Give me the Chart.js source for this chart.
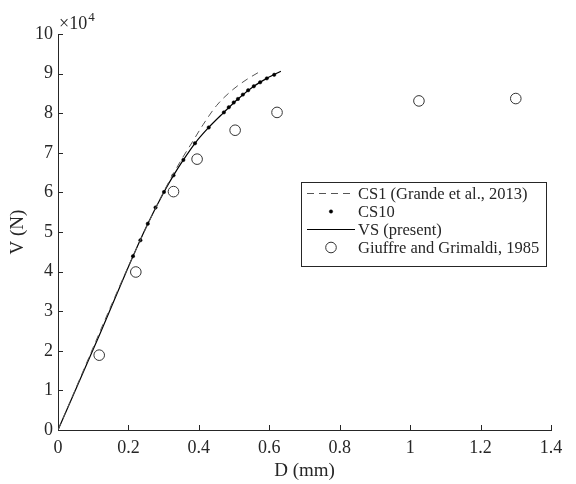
<!DOCTYPE html>
<html>
<head>
<meta charset="utf-8">
<script src="https://cdn.jsdelivr.net/npm/chart.js"></script>
<style>
  html, body { margin: 0; padding: 0; background: #fff; }
</style>
</head>
<body>
<canvas id="myChart" width="576" height="484"></canvas>
<script>
// values are in units of 10^4 N, D in mm
const xTicks = [0, 0.2, 0.4, 0.6, 0.8, 1, 1.2, 1.4];
const yTicks = [0, 1, 2, 3, 4, 5, 6, 7, 8, 9, 10];

const cs1D = [0, 0.213, 0.305, 0.352, 0.380, 0.412, 0.450, 0.493, 0.534, 0.575];
const cs1V = [0, 4.39, 6.10, 6.85, 7.25, 7.71, 8.19, 8.57, 8.84, 9.06];

const cs10D = [0.213, 0.234, 0.255, 0.277, 0.301, 0.328, 0.356, 0.389, 0.428, 0.471, 0.485, 0.499, 0.511, 0.525, 0.540, 0.556, 0.574, 0.593, 0.614];
const cs10V = [4.39, 4.79, 5.21, 5.62, 6.01, 6.43, 6.82, 7.24, 7.64, 8.02, 8.15, 8.27, 8.36, 8.47, 8.58, 8.68, 8.78, 8.88, 8.97];

const vsD = [0, 0.122, 0.213, 0.255, 0.301, 0.328, 0.356, 0.389, 0.428, 0.471, 0.511, 0.556, 0.593, 0.633];
const vsV = [0, 2.49, 4.39, 5.21, 6.01, 6.43, 6.82, 7.24, 7.64, 8.02, 8.36, 8.68, 8.88, 9.06];

const expD = [0.117, 0.221, 0.328, 0.395, 0.503, 0.622, 1.025, 1.30];
const expV = [1.89, 3.99, 6.02, 6.84, 7.57, 8.02, 8.31, 8.37];

const labels = ['CS1 (Grande et al., 2013)', 'CS10', 'VS (present)', 'Giuffre and Grimaldi, 1985'];

const axisColor = '#262626';
const fontFam = '"Liberation Serif", "Times New Roman", serif';

function pts(xs, ys) {
  return xs.map((x, i) => ({ x: x, y: ys[i] }));
}

// inward ticks, exponent note and legend box
const extras = {
  id: 'extras',
  afterDraw(chart) {
    const c = chart.ctx;
    const xs = chart.scales.x, ys = chart.scales.y;
    const a = chart.chartArea;
    c.save();
    c.strokeStyle = axisColor;
    c.lineWidth = 1;
    c.beginPath();
    xTicks.forEach(t => {
      if (t === 0) return;
      const px = Math.round(xs.getPixelForValue(t)) + 0.5;
      c.moveTo(px, a.bottom);
      c.lineTo(px, a.bottom - 5);
    });
    yTicks.forEach(t => {
      if (t === 0) return;
      const py = Math.round(ys.getPixelForValue(t)) + 0.5;
      c.moveTo(a.left, py);
      c.lineTo(a.left + 5, py);
    });
    c.stroke();

    // x10^4
    c.fillStyle = axisColor;
    c.textBaseline = 'alphabetic';
    c.textAlign = 'left';
    c.font = '18px ' + fontFam;
    c.fillText('\u00d710', a.left + 1, a.top - 5);
    const w = c.measureText('\u00d710').width;
    c.font = '13px ' + fontFam;
    c.fillText('4', a.left + 2 + w, a.top - 13);

    // legend
    const bx = 301, by = 182, bw = 245, bh = 84;
    c.fillStyle = '#fff';
    c.fillRect(bx, by, bw, bh);
    c.strokeStyle = axisColor;
    c.strokeRect(bx + 0.5, by + 0.5, bw, bh);
    const rowY = [193.5, 211.5, 229.5, 247.5];
    const x1 = 307, x2 = 355, xm = (x1 + x2) / 2;
    chart.data.datasets.forEach((ds, i) => {
      const y = rowY[i];
      c.save();
      if (ds.showLine) {
        c.strokeStyle = ds.borderColor;
        c.lineWidth = ds.borderWidth;
        c.setLineDash(ds.borderDash || []);
        c.beginPath();
        c.moveTo(x1, y);
        c.lineTo(x2, y);
        c.stroke();
      } else {
        c.beginPath();
        c.arc(xm, y, ds.pointRadius, 0, Math.PI * 2);
        if (ds.pointBackgroundColor !== 'rgba(0,0,0,0)') {
          c.fillStyle = ds.pointBackgroundColor;
          c.fill();
        }
        c.strokeStyle = ds.pointBorderColor;
        c.lineWidth = ds.pointBorderWidth;
        c.stroke();
      }
      c.restore();
      c.fillStyle = axisColor;
      c.font = '16.5px ' + fontFam;
      c.textBaseline = 'middle';
      c.fillText(ds.label, 358, y + 1);
    });
    c.restore();
  }
};

const ctx = document.getElementById('myChart');

new Chart(ctx, {
  type: 'scatter',
  data: {
    datasets: [
      {
        label: labels[0],
        data: pts(cs1D, cs1V),
        showLine: true,
        borderColor: '#555',
        borderWidth: 1,
        borderDash: [7, 5],
        pointRadius: 0,
        cubicInterpolationMode: 'monotone'
      },
      {
        label: labels[1],
        data: pts(cs10D, cs10V),
        showLine: false,
        pointRadius: 1.7,
        pointBackgroundColor: '#000',
        pointBorderColor: '#000',
        pointBorderWidth: 0.5
      },
      {
        label: labels[2],
        data: pts(vsD, vsV),
        showLine: true,
        borderColor: '#000',
        borderWidth: 1.2,
        pointRadius: 0,
        cubicInterpolationMode: 'monotone'
      },
      {
        label: labels[3],
        data: pts(expD, expV),
        showLine: false,
        pointRadius: 5.3,
        pointBackgroundColor: 'rgba(0,0,0,0)',
        pointBorderColor: '#333',
        pointBorderWidth: 1
      }
    ]
  },
  options: {
    responsive: false,
    animation: false,
    layout: { padding: { top: 34, right: 25, left: 0, bottom: 0 } },
    plugins: {
      legend: { display: false },
      tooltip: { enabled: false }
    },
    scales: {
      x: {
        type: 'linear',
        min: 0,
        max: 1.4,
        afterFit: s => { s.height = 54; },
        afterBuildTicks: s => { s.ticks = xTicks.map(v => ({ value: v })); },
        grid: { display: false, drawTicks: false, tickLength: 0 },
        border: { display: true, color: axisColor, width: 1 },
        ticks: {
          color: axisColor,
          font: { family: fontFam, size: 18 },
          padding: 7,
          maxRotation: 0,
          autoSkip: false,
          callback: v => String(+v.toFixed(1))
        },
        title: {
          display: true,
          text: 'D (mm)',
          color: axisColor,
          font: { family: fontFam, size: 19 },
          padding: { top: 0, bottom: 2 }
        }
      },
      y: {
        type: 'linear',
        min: 0,
        max: 10,
        afterFit: s => { s.width = 58; },
        afterBuildTicks: s => { s.ticks = yTicks.map(v => ({ value: v })); },
        grid: { display: false, drawTicks: false, tickLength: 0 },
        border: { display: true, color: axisColor, width: 1 },
        ticks: {
          color: axisColor,
          font: { family: fontFam, size: 18 },
          padding: 5,
          autoSkip: false,
          callback: v => String(v)
        },
        title: {
          display: true,
          text: 'V (N)',
          color: axisColor,
          font: { family: fontFam, size: 19 },
          padding: { top: 7, bottom: 0 }
        }
      }
    }
  },
  plugins: [extras]
});
</script>
</body>
</html>
